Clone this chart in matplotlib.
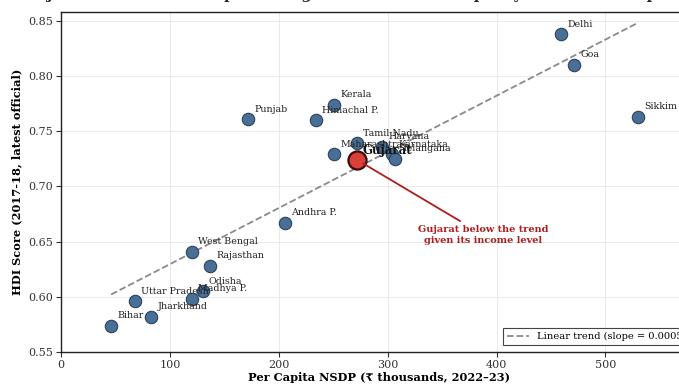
import numpy as np
import matplotlib
matplotlib.use("Agg")
import matplotlib.pyplot as plt

states = ["Delhi", "Goa", "Sikkim", "Kerala", "Punjab", "Himachal P.", "Tamil Nadu",
          "Haryana", "Maharashtra", "Karnataka", "Telangana", "Andhra P.", "West Bengal",
          "Rajasthan", "Odisha", "Madhya P.", "Uttar Pradesh", "Jharkhand", "Bihar"]
nsdp = [459, 471, 530, 251, 172, 234, 272, 295, 251, 304, 307, 206, 120, 137, 130, 120, 68, 83, 46]
hdi = [0.838, 0.810, 0.763, 0.774, 0.761, 0.760, 0.739, 0.736, 0.729, 0.729, 0.725, 0.667,
       0.641, 0.628, 0.605, 0.598, 0.596, 0.582, 0.574]
guj_name = "Gujarat"
guj_nsdp = 272
guj_hdi = 0.724

plt.rcParams["font.family"] = ["DejaVu Serif", "DejaVu Sans"]

fig = plt.figure(figsize=(6.79, 3.85), dpi=100)
W, H = 679, 385
ax = fig.add_axes([61 / W, 1 - 352 / H, (698 - 61) / W, (352 - 12) / H])

all_x = np.array(nsdp + [guj_nsdp], dtype=float)
all_y = np.array(hdi + [guj_hdi], dtype=float)
slope, intercept = np.polyfit(all_x, all_y, 1)
xs = np.linspace(all_x.min(), all_x.max(), 100)
ax.plot(xs, slope * xs + intercept, ls="--", color="#8a8a8a", lw=1.3,
        label=f"Linear trend (slope = {slope:.4f})", zorder=1)

ax.scatter(nsdp, hdi, s=80, color="#4a6f96", edgecolor="#2b435c", linewidth=0.8, zorder=3)
ax.scatter([guj_nsdp], [guj_hdi], s=170, color="#d9403a", edgecolor="#3a0a0a", linewidth=1.6, zorder=4)

for n, x, y in zip(states, nsdp, hdi):
    ax.annotate(n, (x, y), xytext=(4.5, 4), textcoords="offset points", fontsize=6.8,
                color="#222222", ha="left", va="bottom", zorder=5)
ax.annotate(guj_name, (guj_nsdp, guj_hdi), xytext=(4, 2), textcoords="offset points",
            fontsize=8.5, fontweight="bold", color="#111111", ha="left", va="bottom", zorder=5)

ax.annotate("Gujarat below the trend\ngiven its income level", xy=(guj_nsdp, guj_hdi),
            xytext=(388, 0.656), textcoords="data", fontsize=7, fontweight="bold",
            color="#b01c1c", ha="center", va="center",
            arrowprops=dict(arrowstyle="-", color="#b01c1c", lw=1.3, shrinkA=2, shrinkB=5), zorder=5)

ax.set_xlim(0, 585)
ax.set_ylim(0.55, 0.858)
ax.set_xticks([0, 100, 200, 300, 400, 500])
ax.set_yticks([0.55, 0.60, 0.65, 0.70, 0.75, 0.80, 0.85])
ax.tick_params(labelsize=8, colors="#333333", length=3.5, pad=2.5)
ax.grid(True, color="#e6e6e6", lw=0.6)
ax.set_axisbelow(True)
for s in ax.spines.values():
    s.set_color("#222222")
    s.set_linewidth(1.0)

ax.set_xlabel("Per Capita NSDP (₹ thousands, 2022–23)", fontsize=8.2, fontweight="bold", labelpad=1)
ax.set_ylabel("HDI Score (2017-18, latest official)", fontsize=8.2, fontweight="bold", labelpad=4)

leg = ax.legend(loc="lower left", bbox_to_anchor=(503 / W, 1 - 345 / H), bbox_transform=fig.transFigure,
                borderaxespad=0, fontsize=7.1, frameon=True, fancybox=False,
                edgecolor="#444444", framealpha=1, borderpad=0.4, handlelength=2.2)
leg.get_frame().set_linewidth(0.8)

fig.text(384 / W, 1 + 1.5 / H, "Gujarat's Human Development Lags Its Economic Prosperity: HDI vs Per Capita Income",
         ha="center", va="baseline", fontsize=10.5, fontweight="bold", color="#222222")

fig.savefig("out.png", dpi=100)
